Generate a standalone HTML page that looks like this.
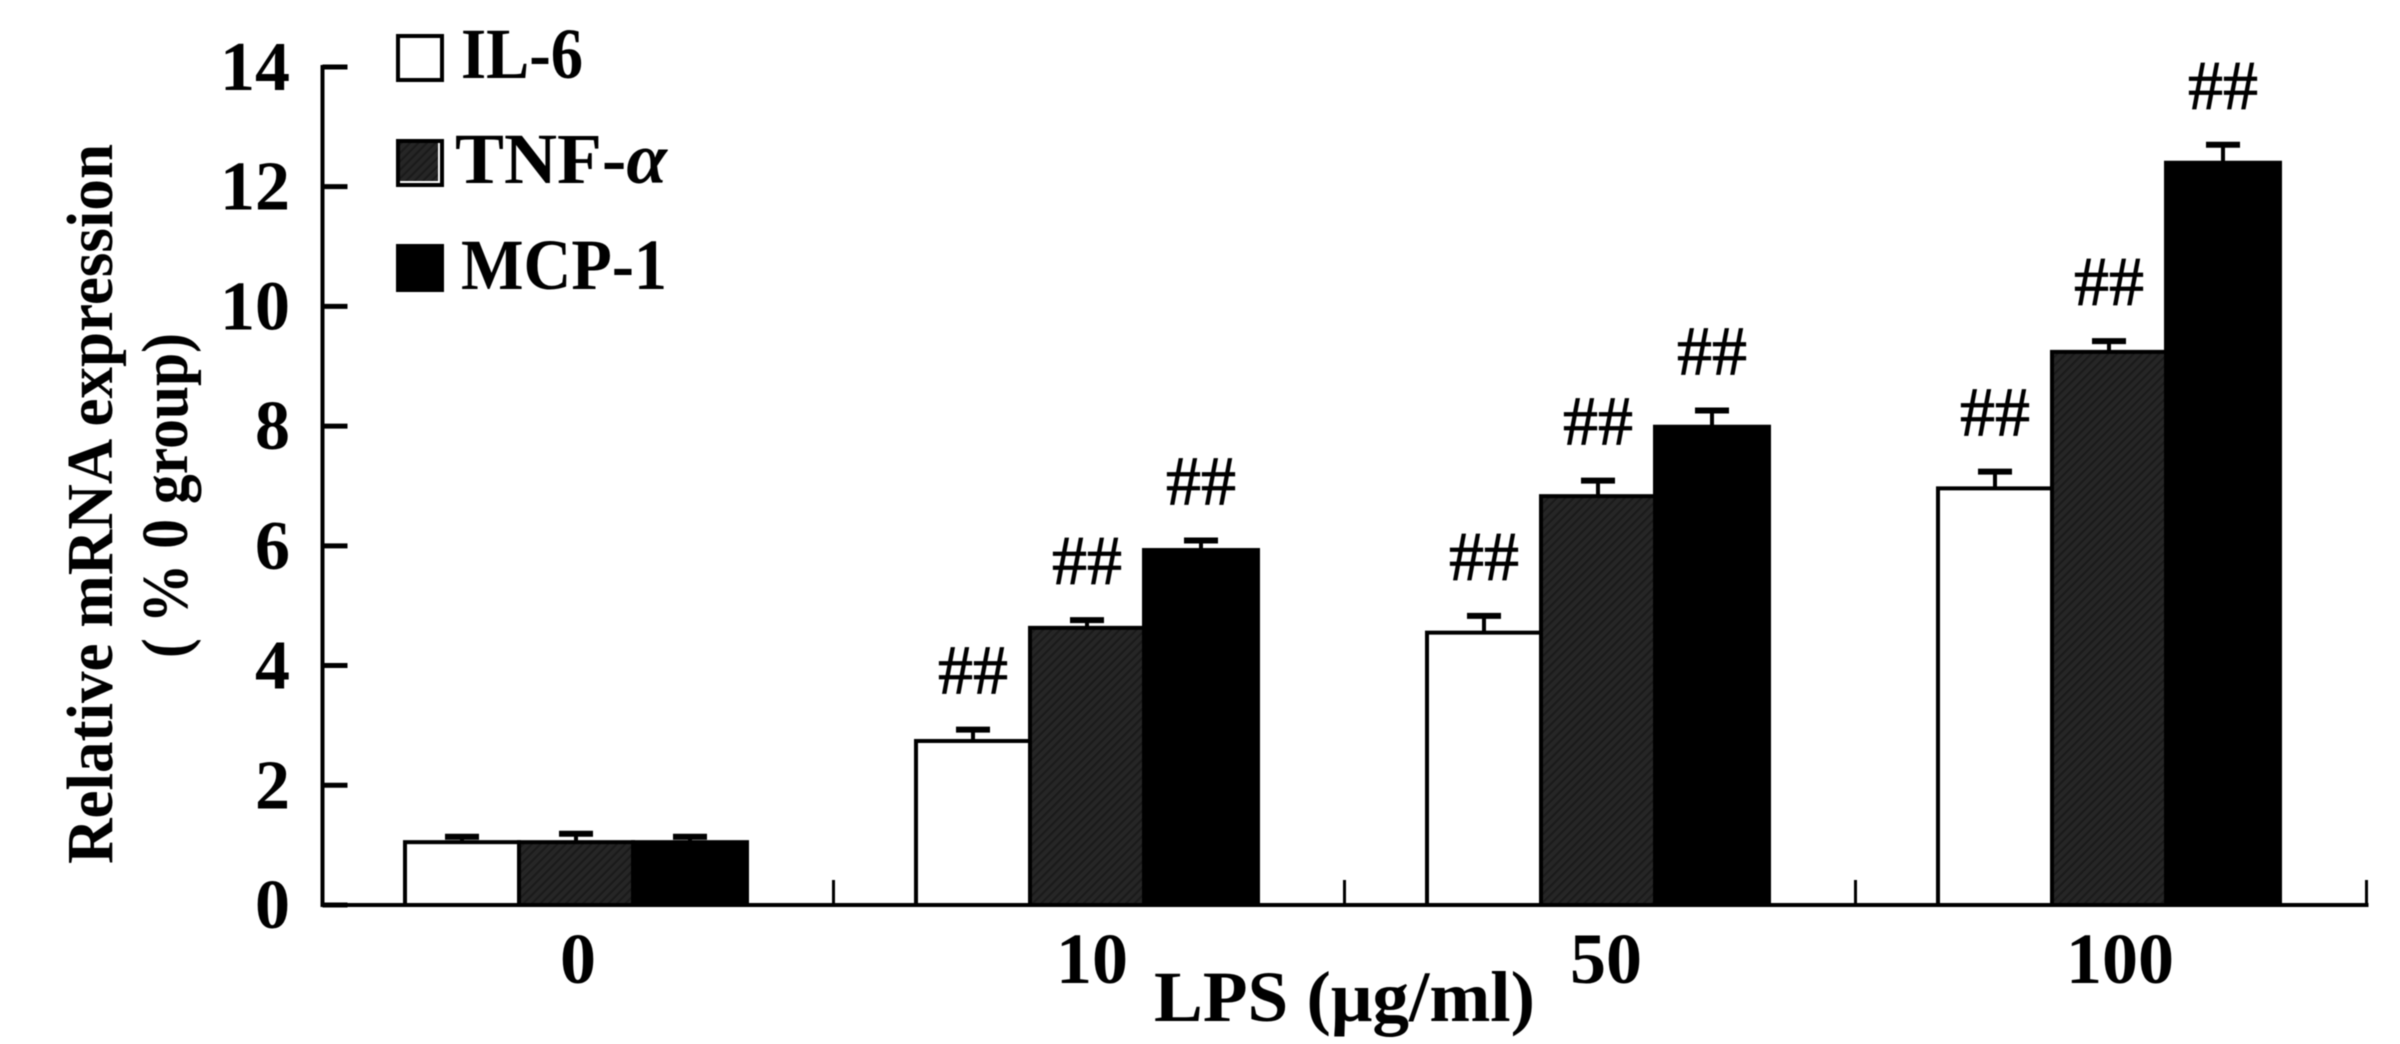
<!DOCTYPE html>
<html lang="en">
<head>
<meta charset="utf-8">
<title>Relative mRNA expression by LPS dose</title>
<style>
  html, body { margin: 0; padding: 0; background: #fff; }
  svg { display: block; filter: blur(0.6px); }
  text { font-family: "Liberation Serif", "Times New Roman", serif; fill: #000; }
  .b { font-weight: bold; }
</style>
</head>
<body>
<svg id="chart" xmlns="http://www.w3.org/2000/svg" width="2400" height="1044" viewBox="0 0 2400 1044">
  <defs>
    <pattern id="hatch" width="6" height="6" patternUnits="userSpaceOnUse" patternTransform="rotate(45)">
      <rect width="6" height="6" fill="#262626"/>
      <rect width="2" height="6" fill="#1a1a1a"/>
    </pattern>
  </defs>
  <rect width="2400" height="1044" fill="#fff"/>

  <g id="bars"></g>
  <g id="axes"></g>
  <g id="annotations"></g>

  <text class="b" font-size="66" transform="translate(112,864) rotate(-90)" textLength="720" lengthAdjust="spacingAndGlyphs">Relative mRNA expression</text>
  <text class="b" font-size="66" transform="translate(187,658) rotate(-90)" textLength="325" lengthAdjust="spacingAndGlyphs">( % 0 group)</text>
  <text class="b" font-size="72" x="1154" y="1021" textLength="381" lengthAdjust="spacingAndGlyphs">LPS (μg/ml)</text>

  <g>
    <g>
      <rect x="398" y="36" width="44" height="44" fill="#fff" stroke="#000" stroke-width="4"/>
      <text class="b" font-size="72" x="461" y="78" textLength="122" lengthAdjust="spacingAndGlyphs">IL-6</text>
    </g>
    <g>
      <rect x="398" y="141" width="44" height="44" fill="#fff" stroke="#000" stroke-width="4"/>
      <rect x="400" y="143" width="38" height="38" fill="url(#hatch)"/>
      <text class="b" font-size="72" x="455" y="183" textLength="212" lengthAdjust="spacingAndGlyphs">TNF-<tspan font-style="italic">α</tspan></text>
    </g>
    <g>
      <rect x="396" y="244" width="48" height="48" fill="#000"/>
      <text class="b" font-size="72" x="461" y="289" textLength="206" lengthAdjust="spacingAndGlyphs">MCP-1</text>
    </g>
  </g>

<script>
// ---- chart data ----
const categories = ["0", "10", "50", "100"];
const yTickValues = [0, 2, 4, 6, 8, 10, 12, 14];
const il6Values = [1.05, 2.74, 4.55, 6.96];
const il6Errors = [0.09, 0.19, 0.28, 0.28];
const tnfValues = [1.05, 4.63, 6.83, 9.24];
const tnfErrors = [0.14, 0.13, 0.26, 0.18];
const mcpValues = [1.05, 5.93, 7.99, 12.40];
const mcpErrors = [0.09, 0.16, 0.27, 0.30];
const significance = ["", "##", "##", "##"];

// ---- axis functions ----
const NS = "http://www.w3.org/2000/svg";
const axisLeft = 322.5, axisBottom = 905, unitsToPx = 59.86, groupStep = 511;
const yScale = function (v) { return axisBottom - v * unitsToPx; };
const groupLeft = function (i) { return 405 + i * groupStep; };
const barWidth = 114;
const xTickPos = function (i) { return axisLeft + i * groupStep; };
const xLabelPos = function (i) { return 578 + i * 514; };

function make(tag, parent, attrs, text) {
  const el = document.createElementNS(NS, tag);
  for (const k in attrs) el.setAttribute(k, attrs[k]);
  if (text !== undefined) el.textContent = text;
  parent.appendChild(el);
  return el;
}

const barsLayer = document.getElementById("bars");
const axesLayer = document.getElementById("axes");
const annLayer = document.getElementById("annotations");

const seriesNames = ["il-6", "tnf-alpha", "mcp-1"];
const seriesValues = [il6Values, tnfValues, mcpValues];
const seriesErrors = [il6Errors, tnfErrors, mcpErrors];
const seriesFills = ["#fff", "url(#hatch)", "#000"];

// error bars first, so bars overlap their stems
seriesValues.forEach(function (vals, s) {
  vals.forEach(function (v, i) {
    const cx = groupLeft(i) + barWidth * (s + 0.5);
    const top = yScale(v + seriesErrors[s][i]);
    const stem = make("line", barsLayer, { x1: cx, x2: cx, y1: yScale(v), y2: top, stroke: "#000", "stroke-width": 4 });
    
    
    const cap = make("line", barsLayer, { x1: cx - 17, x2: cx + 17, y1: top, y2: top, stroke: "#000", "stroke-width": 6 });
    
    
  });
});

// bars
seriesValues.forEach(function (vals, s) {
  vals.forEach(function (v, i) {
    const bar = make("rect", barsLayer, {
      x: groupLeft(i) + barWidth * s,
      y: yScale(v),
      width: barWidth,
      height: axisBottom - yScale(v),
      fill: seriesFills[s],
      stroke: "#000",
      "stroke-width": 4
    });
    
    
  });
});

// significance marks above each error bar
seriesValues.forEach(function (vals, s) {
  vals.forEach(function (v, i) {
    if (!significance[i]) return;
    const cx = groupLeft(i) + barWidth * (s + 0.5);
    const mark = make("text", annLayer, {
      x: cx, y: yScale(v + seriesErrors[s][i]) - 36,
      "font-size": 70, "text-anchor": "middle",
      stroke: "#000", "stroke-width": 0.8
    }, significance[i]);
    
    
  });
});

// axes
const yAxisLine = make("line", axesLayer, { x1: axisLeft, x2: axisLeft, y1: yScale(14) - 2, y2: axisBottom + 2, stroke: "#000", "stroke-width": 4 });


const xAxisLine = make("line", axesLayer, { x1: axisLeft - 2, x2: xTickPos(categories.length) + 2, y1: axisBottom, y2: axisBottom, stroke: "#000", "stroke-width": 4 });



yTickValues.forEach(function (t) {
  const y = yScale(t);
  const tick = make("line", axesLayer, { x1: axisLeft, x2: axisLeft + 25, y1: y, y2: y, stroke: "#000", "stroke-width": 5 });
  
  
  const label = make("text", axesLayer, { x: 290, y: y + 23, "font-size": 70, "font-weight": "bold", "text-anchor": "end" }, String(t));
  
  
});

for (let i = 1; i <= categories.length; i++) {
  const tx = xTickPos(i);
  const tick = make("line", axesLayer, { x1: tx, x2: tx, y1: axisBottom - 25, y2: axisBottom, stroke: "#000", "stroke-width": 3 });
  
  
}

categories.forEach(function (c, i) {
  const label = make("text", axesLayer, { x: xLabelPos(i), y: 983, "font-size": 72, "font-weight": "bold", "text-anchor": "middle" }, c);
  
  
});
</script>
</svg>
</body>
</html>
